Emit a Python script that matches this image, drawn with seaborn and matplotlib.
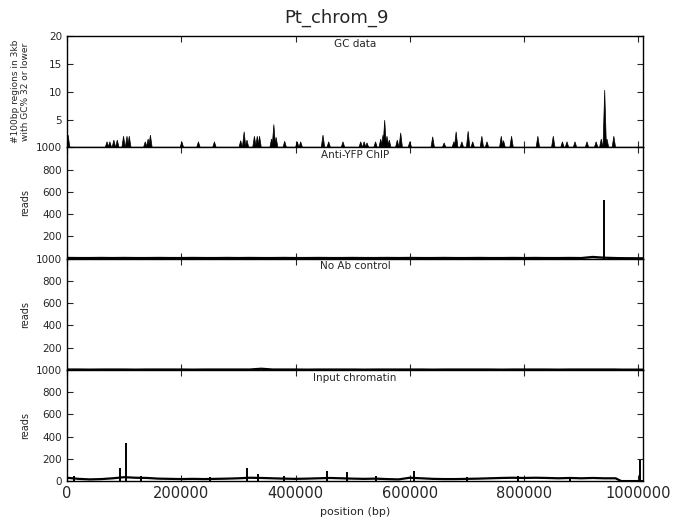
import matplotlib
matplotlib.use("Agg")
import matplotlib.pyplot as plt
import seaborn as sns
import pandas as pd

# GC track: 100bp regions in 3kb windows with GC% <= 32 (peak position, count)
gc_pos = [2000, 70000, 75000, 82000, 88000, 99000, 105000, 109000, 137000, 142000,
          146000, 201000, 230000, 258000, 304000, 310000, 315000, 328000, 333000, 337000,
          358000, 362000, 366000, 381000, 403000, 409000, 448000, 458000, 483000, 514000,
          520000, 525000, 540000, 549000, 553000, 556000, 560000, 564000, 578000, 584000,
          600000, 640000, 660000, 677000, 681000, 691000, 702000, 710000, 726000, 735000,
          760000, 764000, 778000, 824000, 851000, 867000, 875000, 889000, 910000, 926000,
          935000, 941000, 945000, 957000]
gc_count = [2.2, 1, 1, 1.3, 1.3, 2, 2, 2, 1, 1.5,
            2.2, 1, 1, 1, 1.2, 2.8, 1.3, 2, 2, 2,
            1.5, 4.1, 1.8, 1.1, 1, 1, 2.2, 1, 1, 1,
            1, 0.8, 1, 1.5, 2.2, 4.9, 2, 1.3, 1.3, 2.6,
            1, 1.9, 0.8, 1, 2.8, 1, 2.9, 1, 2, 1,
            2, 1.2, 2, 2, 2, 1, 1, 1, 1, 1,
            1.5, 10.3, 1.5, 2]

# read coverage, background level
bg_pos = [0, 20000, 40000, 60000, 80000, 100000, 120000, 140000, 160000, 180000,
          200000, 220000, 240000, 260000, 280000, 300000, 320000, 340000, 360000, 380000,
          400000, 420000, 440000, 460000, 480000, 500000, 520000, 540000, 560000, 580000,
          600000, 620000, 640000, 660000, 680000, 700000, 720000, 740000, 760000, 780000,
          800000, 820000, 840000, 860000, 880000, 900000, 920000, 940000, 960000, 970000,
          1000000, 1008000]
yfp_bg = [6, 5, 5, 6, 5, 6, 5, 5, 6, 5,
          5, 6, 5, 5, 6, 5, 6, 5, 5, 6,
          5, 5, 6, 5, 5, 6, 5, 5, 6, 5,
          6, 5, 5, 6, 5, 5, 6, 5, 5, 6,
          5, 6, 5, 5, 6, 5, 15, 8, 5, 4,
          3, 3]
noab_bg = [3, 3, 2, 3, 3, 3, 2, 3, 3, 3,
           3, 2, 3, 3, 3, 3, 3, 10, 3, 3,
           3, 2, 3, 3, 3, 3, 2, 3, 3, 3,
           3, 3, 2, 3, 3, 3, 3, 3, 2, 3,
           3, 3, 3, 2, 3, 3, 3, 3, 3, 2,
           2, 2]
input_bg = [30, 20, 15, 18, 25, 35, 30, 28, 22, 20,
            18, 20, 18, 20, 22, 25, 30, 28, 25, 22,
            20, 22, 25, 28, 25, 22, 20, 22, 18, 15,
            30, 25, 20, 18, 18, 20, 22, 25, 28, 30,
            28, 30, 28, 25, 28, 25, 28, 25, 25, 0,
            0, 0]

# narrow read spikes
yfp_spike_pos = [940000]
yfp_spike_reads = [525]
input_spike_pos = [12000, 93000, 103000, 130000, 250000, 315000, 335000, 380000, 455000,
                   490000, 540000, 607000, 700000, 790000, 880000, 1003000]
input_spike_reads = [45, 117, 345, 45, 40, 117, 60, 45, 93,
                     80, 45, 93, 40, 45, 40, 190]

tracks = [
    ("GC data", None, None, None),
    ("Anti-YFP ChIP", yfp_bg, yfp_spike_pos, yfp_spike_reads),
    ("No Ab control", noab_bg, [], []),
    ("Input chromatin", input_bg, input_spike_pos, input_spike_reads),
]

sns.set_style("ticks")
plt.rcParams["font.family"] = ["DejaVu Sans"]

fig, axes = plt.subplots(4, 1, sharex=True, figsize=(6.74, 5.31), dpi=100)
fig.subplots_adjust(left=0.0994, right=0.954, top=0.932, bottom=0.094, hspace=0)

for i, (ax, (name, bg, sp_pos, sp_reads)) in enumerate(zip(axes, tracks)):
    if bg is None:
        # triangles for each GC window peak
        w = 3000
        for p, h in zip(gc_pos, gc_count):
            ax.fill([p - w, p, p + w], [0, h, 0], color="k", lw=0.5)
        ax.set_ylim(0, 20)
        yt = [0, 5, 10, 15, 20]
        ax.set_ylabel("#100bp regions in 3kb\nwith GC% 32 or lower", fontsize=6.5)
    else:
        df = pd.DataFrame({"position": bg_pos, "reads": bg})
        sns.lineplot(data=df, x="position", y="reads", ax=ax, color="k", lw=1.6)
        if sp_pos:
            ax.vlines(sp_pos, 0, sp_reads, color="k", lw=1.4)
        ax.set_ylim(0, 1000)
        yt = [0, 200, 400, 600, 800, 1000]
        ax.set_ylabel("reads", fontsize=7)
    ax.set_yticks(yt)
    # the 0 of an upper panel sits under the 1000 of the panel below
    labels = [str(v) for v in yt]
    if i < len(axes) - 1:
        labels[0] = ""
    ax.set_yticklabels(labels)
    ax.text(0.5, 0.975, name, transform=ax.transAxes, ha="center", va="top", fontsize=7.5)
    ax.set_xlim(0, 1008000)
    ax.set_xticks([0, 200000, 400000, 600000, 800000, 1000000])
    ax.tick_params(direction="in", top=True, right=True, length=4, width=0.8)
    ax.tick_params(axis="y", labelsize=7.5)
    ax.tick_params(axis="x", labelsize=10.5)
    for s in ax.spines.values():
        s.set_linewidth(1.0)
        s.set_color("k")
    ax.set_xlabel("")

axes[-1].xaxis.set_major_formatter(matplotlib.ticker.FormatStrFormatter("%d"))
axes[-1].set_xlabel("position (bp)", fontsize=8)
fig.align_ylabels(axes)
fig.suptitle("Pt_chrom_9", y=0.966, va="center", fontsize=13)

fig.savefig("out.png", dpi=100)
